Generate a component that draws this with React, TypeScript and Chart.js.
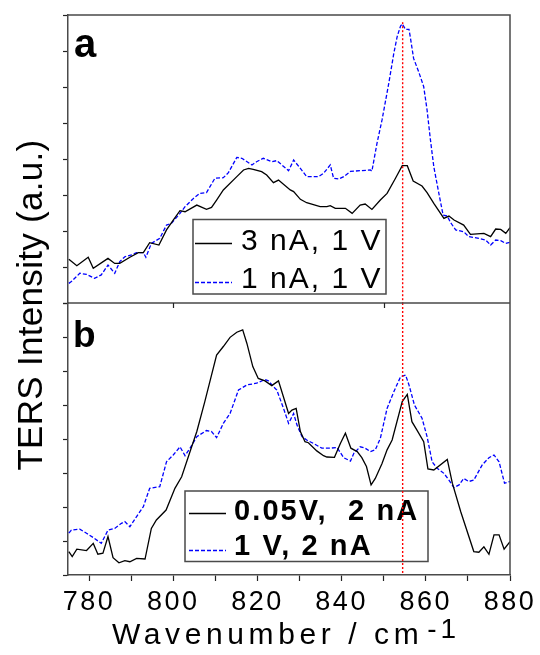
import React, { useEffect, useRef } from 'react';
import { Chart, registerables } from 'chart.js';

Chart.register(...registerables);

const FONT = '"Liberation Sans", Arial, Helvetica, sans-serif';

// ---------- Panel a ----------
const seriesA1Label = '3 nA, 1 V';
const wnA1 = [775.2, 777.1, 779.8, 781.0, 784.5, 786.1, 787.3, 789.7, 791.7, 792.9, 794.4, 796.6, 798.4, 800.0, 801.6, 802.8, 805.6, 807.9, 809.1, 810.3, 811.9, 815.1, 816.7, 817.9, 819.0, 821.0, 822.2, 823.8, 825.0, 827.8, 828.6, 830.2, 831.7, 834.9, 836.5, 837.3, 838.5, 840.9, 842.5, 844.4, 845.6, 847.2, 849.2, 850.8, 852.8, 854.4, 855.6, 857.0, 859.1, 860.3, 861.9, 864.3, 865.5, 866.7, 869.0, 870.6, 873.8, 875.4, 876.6, 877.8, 879.0, 880.0];
const intA1 = [2.43, 2.07, 2.54, 1.93, 2.48, 2.20, 2.20, 2.54, 2.80, 2.80, 3.35, 3.22, 4.06, 4.61, 5.13, 5.07, 5.44, 5.20, 5.31, 5.72, 6.28, 7.02, 7.39, 7.48, 7.43, 7.30, 7.11, 6.69, 6.83, 6.28, 6.19, 5.76, 5.57, 5.35, 5.35, 5.41, 5.26, 5.26, 4.98, 5.44, 5.50, 5.20, 5.72, 6.09, 6.93, 7.63, 7.63, 6.78, 6.50, 6.13, 5.54, 4.70, 4.83, 4.61, 4.33, 3.81, 3.87, 3.69, 4.11, 4.09, 3.87, 4.19];

const seriesA2Label = '1 nA, 1 V';
const wnA2 = [775.2, 775.8, 777.8, 779.4, 781.3, 782.9, 784.5, 786.1, 787.3, 788.5, 790.1, 791.3, 792.9, 793.5, 794.8, 796.8, 798.4, 799.6, 801.6, 802.8, 804.8, 806.3, 807.9, 809.9, 811.9, 813.1, 815.1, 816.3, 818.7, 819.8, 821.4, 823.4, 824.6, 825.8, 827.4, 828.6, 830.2, 831.7, 833.3, 834.5, 835.7, 837.3, 838.1, 839.3, 840.5, 842.1, 844.4, 846.8, 847.2, 848.4, 849.6, 851.2, 852.4, 853.2, 854.0, 854.4, 855.2, 856.0, 856.3, 857.1, 858.3, 859.5, 860.3, 861.1, 861.9, 863.1, 864.1, 865.1, 865.9, 867.1, 869.0, 870.2, 872.6, 874.2, 875.4, 876.6, 877.8, 879.0, 880.0];
const intA2 = [1.09, 1.19, 1.65, 1.59, 1.37, 1.56, 2.11, 1.65, 2.30, 2.57, 2.67, 2.80, 2.80, 2.54, 3.31, 3.59, 4.33, 4.43, 4.98, 5.35, 5.81, 6.09, 6.13, 6.93, 6.96, 7.24, 8.09, 8.04, 7.67, 7.85, 8.04, 7.85, 7.91, 7.67, 7.35, 7.94, 7.48, 7.02, 7.02, 7.02, 7.20, 7.67, 6.93, 6.89, 7.02, 7.31, 7.35, 7.39, 7.33, 8.87, 10.17, 12.20, 13.87, 14.80, 15.39, 15.50, 15.20, 15.20, 14.80, 13.59, 12.85, 12.02, 10.72, 9.06, 7.57, 6.09, 4.89, 4.83, 4.46, 4.06, 3.96, 3.69, 3.59, 3.50, 3.22, 3.50, 3.46, 3.31, 3.37];

// ---------- Panel b ----------
const seriesB1Label = '0.05V,  2 nA';
const wnB1 = [775.2, 776.0, 777.1, 779.4, 781.0, 782.1, 783.3, 784.5, 785.7, 787.1, 788.5, 789.7, 791.3, 793.3, 794.8, 796.0, 798.3, 800.4, 802.0, 804.0, 805.6, 807.5, 810.3, 811.9, 813.5, 815.1, 816.5, 817.5, 818.9, 820.2, 821.8, 823.4, 825.0, 827.4, 828.2, 829.2, 830.2, 831.3, 832.1, 834.1, 835.7, 836.5, 838.3, 839.7, 840.9, 842.2, 843.7, 844.8, 845.9, 847.0, 848.0, 849.6, 850.8, 852.0, 854.4, 855.6, 856.7, 857.9, 859.5, 860.5, 861.9, 865.1, 866.3, 868.3, 871.4, 872.6, 873.8, 875.0, 876.2, 877.4, 878.6, 880.0];
const intB1 = [0.69, 0.54, 0.76, 0.72, 0.93, 0.61, 0.64, 1.13, 0.51, 0.36, 0.42, 0.39, 0.49, 0.47, 1.37, 1.62, 1.91, 2.55, 2.89, 3.63, 4.22, 5.10, 6.47, 6.72, 6.99, 7.14, 7.21, 6.81, 6.13, 5.78, 5.71, 5.57, 5.71, 4.75, 4.85, 4.90, 4.22, 3.92, 3.89, 3.65, 3.51, 3.47, 3.46, 3.87, 4.17, 3.73, 3.63, 3.45, 3.19, 2.65, 2.84, 3.28, 3.68, 3.97, 5.10, 5.31, 4.51, 4.26, 3.92, 3.12, 3.09, 3.40, 2.70, 1.86, 0.69, 0.67, 0.83, 0.61, 1.18, 1.18, 0.76, 0.98];

const seriesB2Label = '1 V, 2 nA';
const wnB2 = [775.2, 775.8, 777.8, 779.4, 781.0, 782.9, 784.5, 786.1, 787.7, 788.5, 789.7, 791.3, 792.9, 794.4, 796.8, 798.4, 800.0, 801.6, 802.8, 804.0, 805.6, 807.9, 809.1, 810.3, 811.9, 813.5, 815.5, 817.5, 819.8, 821.8, 822.6, 823.8, 824.6, 826.2, 827.4, 828.6, 829.4, 830.6, 831.7, 833.3, 835.3, 837.3, 838.9, 840.5, 842.1, 842.9, 844.4, 845.6, 846.8, 848.0, 849.2, 850.8, 852.4, 854.0, 855.2, 856.0, 857.3, 859.1, 860.3, 861.5, 862.7, 864.3, 865.5, 866.7, 867.9, 869.0, 870.2, 871.4, 873.4, 875.0, 876.2, 877.4, 878.7, 880.0];
const intB2 = [1.23, 1.32, 1.35, 1.23, 1.10, 0.93, 1.32, 1.37, 1.52, 1.57, 1.42, 1.72, 2.01, 2.55, 2.60, 3.33, 3.53, 3.77, 3.51, 3.73, 4.07, 4.25, 4.22, 4.04, 4.46, 4.75, 5.44, 5.59, 5.64, 5.75, 5.71, 5.54, 5.44, 4.90, 4.46, 4.75, 4.41, 4.07, 3.97, 3.87, 3.73, 3.73, 3.75, 3.45, 3.35, 3.58, 3.77, 3.73, 3.63, 3.68, 4.02, 4.90, 5.39, 5.83, 5.88, 5.59, 5.00, 4.61, 4.07, 3.33, 3.14, 2.99, 2.79, 2.57, 2.65, 2.84, 2.75, 2.79, 3.24, 3.45, 3.53, 3.33, 2.70, 2.75];

// ---------- marker line, axes ----------
const markerWn = 854.5;
const markerTopA = 15.6;
const markerTopB = 8;
const xMin = 775;
const xMax = 880;
const xStep = 10;
const xLabelStep = 20;
const yAMax = 16;
const yBMax = 8;
const panelLabels = ['a', 'b'];
const yTitle = 'TERS Intensity (a.u.)';
const xTitle = 'Wavenumber / cm';
const xTitleSup = '-1';
const innerTickWn = [800, 850];

const toPts = (xs: number[], ys: number[]) => xs.map((x, i) => ({ x, y: ys[i] }));

const FRAME = '#4a4a4a';

const decorPlugin = {
  id: 'decor',
  beforeDraw(chart: any) {
    chart.ctx.letterSpacing = '2.5px';
  },
  beforeDatasetsDraw(chart: any) {
    const ctx = chart.ctx as CanvasRenderingContext2D;
    const ds = chart.data.datasets;
    const drawLegend = (
      box: [number, number, number, number],
      items: { label: string; color: string; dash: number[] }[],
      font: string,
      ls: string,
      lineX: [number, number],
      lineYs: number[],
      textX: number,
      baseYs: number[]
    ) => {
      ctx.save();
      (ctx as any).letterSpacing = '0px';
      ctx.fillStyle = '#fff';
      ctx.fillRect(box[0], box[1], box[2], box[3]);
      ctx.strokeStyle = FRAME;
      ctx.lineWidth = 1.5;
      ctx.strokeRect(box[0], box[1], box[2], box[3]);
      items.forEach((it, i) => {
        ctx.beginPath();
        ctx.setLineDash(it.dash);
        ctx.strokeStyle = it.color;
        ctx.lineWidth = 1.3;
        ctx.moveTo(lineX[0], lineYs[i]);
        ctx.lineTo(lineX[1], lineYs[i]);
        ctx.stroke();
        ctx.setLineDash([]);
        ctx.fillStyle = '#000';
        ctx.font = font;
        (ctx as any).letterSpacing = ls;
        ctx.textAlign = 'left';
        ctx.textBaseline = 'alphabetic';
        ctx.fillText(it.label, textX, baseYs[i]);
      });
      ctx.restore();
    };
    drawLegend(
      [193, 219.5, 193, 74.5],
      [
        { label: ds[2].label, color: ds[2].borderColor, dash: [] },
        { label: ds[3].label, color: ds[3].borderColor, dash: [4, 2] },
      ],
      `30px ${FONT}`,
      '2px',
      [195, 232],
      [243.5, 282.5],
      241,
      [249.5, 287.5]
    );
    drawLegend(
      [185, 491, 243, 70.5],
      [
        { label: ds[4].label, color: ds[4].borderColor, dash: [] },
        { label: ds[5].label, color: ds[5].borderColor, dash: [4, 2] },
      ],
      `bold 29px ${FONT}`,
      '2.1px',
      [189, 226],
      [513.5, 550.5],
      234,
      [519.5, 554.5]
    );
  },
  afterDraw(chart: any) {
    const ctx = chart.ctx as CanvasRenderingContext2D;
    const { left, right, top, bottom } = chart.chartArea;
    const sep = chart.scales.ya.bottom;
    const xs = chart.scales.x;
    ctx.save();
    (ctx as any).letterSpacing = '0px';
    ctx.strokeStyle = FRAME;
    ctx.lineWidth = 1.5;
    ctx.beginPath();
    ctx.moveTo(left, top);
    ctx.lineTo(right, top);
    ctx.lineTo(right, bottom);
    ctx.moveTo(left, sep);
    ctx.lineTo(right, sep);
    ctx.stroke();
    ctx.lineWidth = 1.2;
    ctx.strokeStyle = '#222';
    ctx.beginPath();
    innerTickWn.forEach((w) => {
      const px = Math.round(xs.getPixelForValue(w)) + 0.5;
      ctx.moveTo(px, sep);
      ctx.lineTo(px, sep + 5);
    });
    ctx.stroke();

    // panel labels
    ctx.fillStyle = '#000';
    ctx.textAlign = 'left';
    ctx.textBaseline = 'alphabetic';
    ctx.font = `bold 40px ${FONT}`;
    ctx.fillText(panelLabels[0], 74, 57);
    ctx.font = `bold 37px ${FONT}`;
    ctx.fillText(panelLabels[1], 73, 347);

    // y title
    ctx.save();
    ctx.translate(42, 305);
    ctx.rotate(-Math.PI / 2);
    ctx.font = `35px ${FONT}`;
    (ctx as any).letterSpacing = '0.3px';
    ctx.textAlign = 'center';
    ctx.fillText(yTitle, 0, 0);
    ctx.restore();

    // x title
    ctx.font = `30px ${FONT}`;
    (ctx as any).letterSpacing = '4.6px';
    ctx.textAlign = 'left';
    ctx.fillText(xTitle, 112, 644);
    const w = ctx.measureText(xTitle).width;
    ctx.font = `28px ${FONT}`;
    (ctx as any).letterSpacing = '4px';
    ctx.fillText(xTitleSup, 112 + w + 4, 638);
    ctx.restore();
  },
};

export default function App() {
  const ref = useRef<HTMLCanvasElement | null>(null);
  useEffect(() => {
    if (!ref.current) return;
    const tickCommon = { color: '#222', tickLength: 5, tickWidth: 1.2, drawOnChartArea: false, drawTicks: true };
    const chart = new Chart(ref.current, {
      type: 'line',
      data: {
        datasets: [
          {
            label: 'markerA',
            data: [{ x: markerWn, y: markerTopA }, { x: markerWn, y: 0 }],
            yAxisID: 'ya',
            borderColor: '#ff0000',
            borderWidth: 1.4,
            borderDash: [2, 2],
            pointRadius: 0,
          },
          {
            label: 'markerB',
            data: [{ x: markerWn, y: markerTopB }, { x: markerWn, y: 0 }],
            yAxisID: 'yb',
            borderColor: '#ff0000',
            borderWidth: 1.4,
            borderDash: [2, 2],
            pointRadius: 0,
          },
          {
            label: seriesA1Label,
            data: toPts(wnA1, intA1),
            yAxisID: 'ya',
            borderColor: '#000000',
            borderWidth: 1.3,
            pointRadius: 0,
          },
          {
            label: seriesA2Label,
            data: toPts(wnA2, intA2),
            yAxisID: 'ya',
            borderColor: '#0000ff',
            borderWidth: 1.3,
            borderDash: [4, 2],
            pointRadius: 0,
          },
          {
            label: seriesB1Label,
            data: toPts(wnB1, intB1),
            yAxisID: 'yb',
            borderColor: '#000000',
            borderWidth: 1.3,
            pointRadius: 0,
          },
          {
            label: seriesB2Label,
            data: toPts(wnB2, intB2),
            yAxisID: 'yb',
            borderColor: '#0000ff',
            borderWidth: 1.3,
            borderDash: [4, 2],
            pointRadius: 0,
          },
        ],
      },
      options: {
        animation: false,
        responsive: false,
        maintainAspectRatio: false,
        events: [],
        layout: { padding: { top: 15, right: 30, left: 0, bottom: 0 } },
        plugins: { legend: { display: false }, tooltip: { enabled: false } },
        elements: { line: { tension: 0 } },
        scales: {
          x: {
            type: 'linear',
            position: 'bottom',
            min: xMin,
            max: xMax,
            ticks: {
              stepSize: xStep,
              includeBounds: false,
              autoSkip: false,
              maxRotation: 0,
              color: '#000',
              padding: 5,
              font: { family: FONT, size: 27 },
              callback: (v: any) => (Number(v) % xLabelStep === 0 ? String(v) : ''),
            },
            grid: { ...tickCommon, tickLength: 6 },
            border: { display: true, color: FRAME, width: 1.5 },
            afterFit: (s: any) => {
              s.height = 80;
            },
          },
          yb: {
            type: 'linear',
            position: 'left',
            stack: 'v',
            stackWeight: 272,
            min: 0,
            max: yBMax,
            ticks: { stepSize: 1, callback: () => '', padding: 0 },
            grid: tickCommon,
            border: { display: true, color: FRAME, width: 1.5 },
            afterFit: (s: any) => {
              s.width = 68;
            },
          },
          ya: {
            type: 'linear',
            position: 'left',
            stack: 'v',
            stackWeight: 288,
            min: 0,
            max: yAMax,
            ticks: { stepSize: 1, callback: () => '', padding: 0 },
            grid: tickCommon,
            border: { display: true, color: FRAME, width: 1.5 },
            afterFit: (s: any) => {
              s.width = 68;
            },
          },
        },
      } as any,
      plugins: [decorPlugin],
    });
    return () => chart.destroy();
  }, []);
  return (
    <div style={{ position: 'absolute', left: 0, top: 0, width: 540, height: 655, background: '#fff' }}>
      <canvas ref={ref} width={540} height={655} style={{ display: 'block' }} />
    </div>
  );
}
